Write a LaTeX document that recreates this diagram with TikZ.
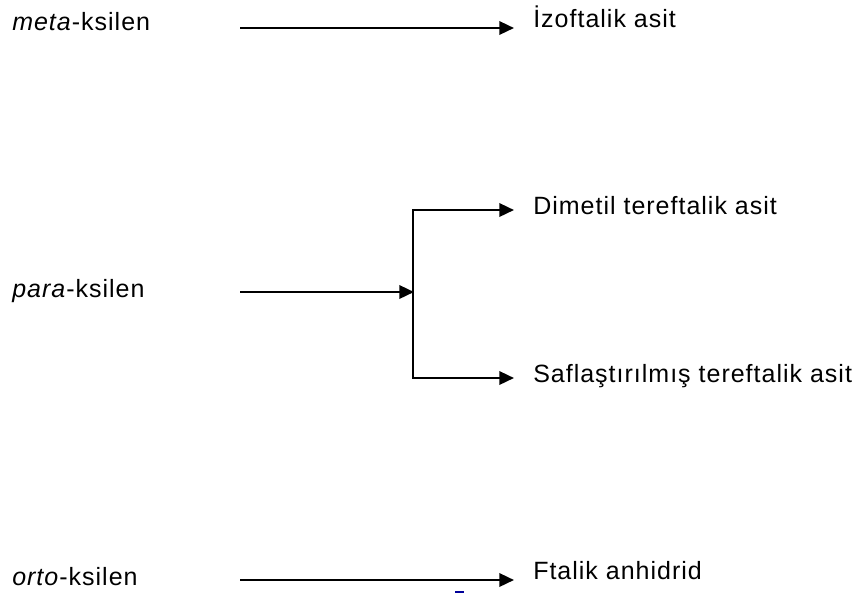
\documentclass[tikz,border=0pt]{standalone}
\usepackage{fontspec}
\setmainfont{Liberation Sans}[LetterSpace=4]
\usetikzlibrary{arrows.meta}
\begin{document}
\begin{tikzpicture}[x=0.75pt,y=-0.75pt,
  label/.style={anchor=base west,inner sep=0pt,font=\fontsize{18.75pt}{22pt}\selectfont},
  flow/.style={line width=1.8pt,-{Triangle[length=11pt,width=10pt]}},
  branch/.style={line width=1.8pt}]
\useasboundingbox (0,0) rectangle (861,594);

% source compounds
\node[label] (meta) at (12,30) {\emph{meta}-ksilen};
\node[label] (para) at (12,297) {\emph{para}-ksilen};
\node[label] (orto) at (12,585) {\emph{orto}-ksilen};

% products
\node[label] (izo) at (533,27) {İzoftalik asit};
\node[label] (dmt) at (533,214) {Dimetil tereftalik asit};
\node[label] (pta) at (533,382) {Saflaştırılmış tereftalik asit};
\node[label] (fta) at (533,579) {Ftalik anhidrid};

% arrow end points
\coordinate (m0) at (240,28);  \coordinate (m1) at (514,28);
\coordinate (p0) at (240,292); \coordinate (pj) at (414,292);
\coordinate (pt) at (413,210); \coordinate (pb) at (413,378);
\coordinate (d1) at (514,210); \coordinate (s1) at (514,378);
\coordinate (o0) at (240,580); \coordinate (o1) at (514,580);

\draw[flow] (m0) -- (m1);
\draw[flow] (p0) -- (pj);
\draw[branch,line cap=rect] (pt) -- (pb);
\draw[flow] (pt) -- (d1);
\draw[flow] (pb) -- (s1);
\draw[flow] (o0) -- (o1);

% small stray mark below the last arrow
\fill[blue!60!black] (455,590.5) rectangle (464,593);
\end{tikzpicture}
\end{document}
